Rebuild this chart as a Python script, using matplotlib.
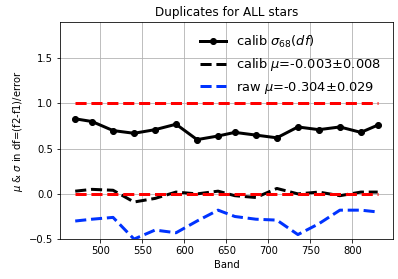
import matplotlib
matplotlib.use("Agg")
from matplotlib import pyplot as plt

# bandas y valores
bands = [470, 490, 515, 540, 565, 590, 615, 640, 660, 685, 710, 735, 760, 785, 810, 830]
sigma_calib = [0.83, 0.80, 0.70, 0.67, 0.71, 0.77, 0.60, 0.64, 0.68, 0.65, 0.62, 0.74, 0.71, 0.74, 0.68, 0.76]
mu_calib = [0.03, 0.05, 0.04, -0.09, -0.05, 0.02, 0.00, 0.03, -0.02, -0.04, 0.06, 0.00, 0.02, -0.02, 0.02, 0.02]
mu_raw = [-0.30, -0.28, -0.26, -0.50, -0.40, -0.43, -0.30, -0.18, -0.25, -0.28, -0.29, -0.45, -0.33, -0.18, -0.18, -0.20]
ref_lines = [1.0, 0.0]

fig = plt.figure(figsize=(398 / 72, 279 / 72), dpi=72)
ax = fig.add_subplot(111)
plt.subplots_adjust(left=0.151, right=0.987, top=0.921, bottom=0.143)

ax.plot(bands, sigma_calib, "k-o", lw=3, ms=6, label=r"calib $\sigma_{68}(df)$")
ax.plot(bands, mu_calib, "k--", lw=3, label=r"calib $\mu$=-0.003$\pm$0.008")
ax.plot(bands, mu_raw, "--", color="#0033ff", lw=3, label=r"raw $\mu$=-0.304$\pm$0.029")
for r in ref_lines:
    ax.plot([bands[0], bands[-1]], [r, r], "r--", lw=3)

ax.set_ylim(-0.5, 1.9)
ax.set_xticks([500, 550, 600, 650, 700, 750, 800])
ax.set_yticks([-0.5, 0.0, 0.5, 1.0, 1.5])
ax.grid(True)
ax.set_xlabel("Band")
ax.set_ylabel(r"$\mu$ & $\sigma$ in df=(f2-f1)/error")
ax.set_title("Duplicates for ALL stars")
ax.legend(loc="upper right", frameon=False, fontsize=13)

plt.savefig("out.png", dpi=72)
